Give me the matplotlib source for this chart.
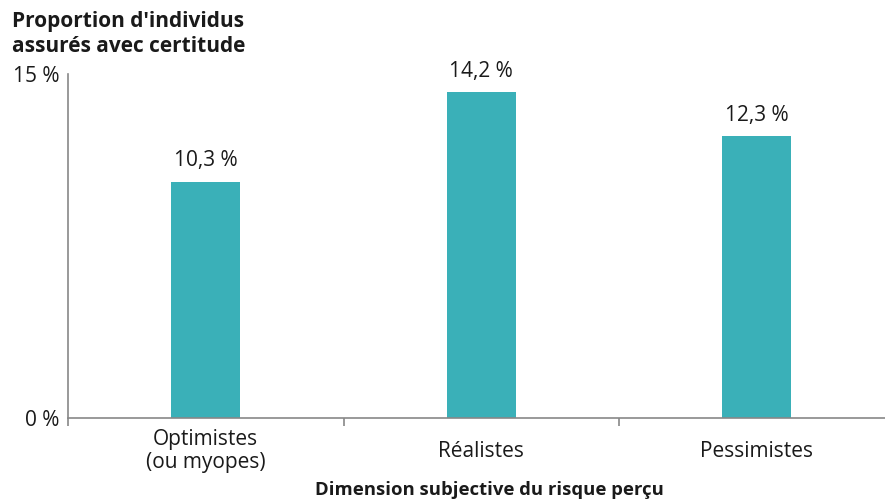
import matplotlib
matplotlib.use("Agg")
import matplotlib.pyplot as plt

categories = ["Optimistes\n(ou myopes)", "Réalistes", "Pessimistes"]
values = [10.3, 14.2, 12.3]
value_labels = ["10,3 %", "14,2 %", "12,3 %"]
yticks = [0, 15]
ytick_labels = ["0 %", "15 %"]

plt.rcParams['font.family'] = ['Open Sans', 'DejaVu Sans']

fig = plt.figure(figsize=(8.85, 5.0), dpi=100)
ax = fig.add_axes([68/885, 82/500, 826.5/885, 344/500])
ax.set_clip_on(False)

color = "#3AB0B8"
x = list(range(len(categories)))
ax.bar(x, values, width=0.25, color=color, zorder=2)
for xi, v, lab in zip(x, values, value_labels):
    ax.annotate(lab, (xi, v), xytext=(0, 7.5), textcoords="offset points",
                ha="center", va="bottom", fontsize=15, color="#1a1a1a")

ax.set_xlim(-0.5, 2.5)
ax.set_ylim(0, 15)
ax.set_yticks(yticks)
ax.set_yticklabels(ytick_labels, fontsize=15, color="#1a1a1a")
ax.tick_params(axis="y", length=0, pad=6)

ax.set_xticks(x)
ax.set_xticklabels(categories, fontsize=15, color="#1a1a1a", linespacing=1.12,
                   va="center")
ax.tick_params(axis="x", which="major", length=0, pad=24)
ax.set_xticks([-0.5, 0.5, 1.5, 2.5], minor=True)
ax.tick_params(axis="x", which="minor", length=6, color="#888888", width=1.2)

for s in ["top", "right"]:
    ax.spines[s].set_visible(False)
for s in ["left", "bottom"]:
    ax.spines[s].set_color("#888888")
    ax.spines[s].set_linewidth(1.2)

fig.text(12/885, 1 - 34/500, "Proportion d'individus\nassurés avec certitude",
         fontsize=15, fontweight="bold", ha="left", va="center", linespacing=1.25,
         color="#1a1a1a")
fig.text(489/885, 1 - 490/500, "Dimension subjective du risque perçu",
         fontsize=13.3, fontweight="bold", ha="center", va="center", color="#1a1a1a")

fig.savefig("out.png", dpi=100)
